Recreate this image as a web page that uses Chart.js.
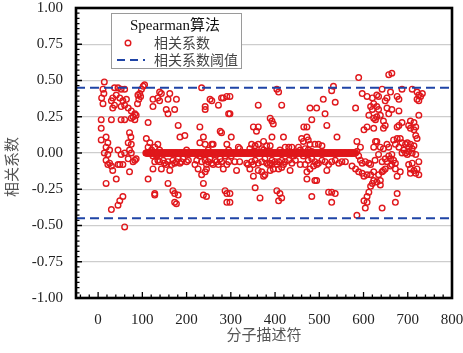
<!DOCTYPE html>
<html>
<head>
<meta charset="utf-8">
<script src="https://cdn.jsdelivr.net/npm/chart.js@4.4.1/dist/chart.umd.min.js"></script>
<style>
  html, body { margin: 0; padding: 0; background: #fff; }
  canvas { display: block; }
</style>
</head>
<body>
<canvas id="chart" width="463" height="353"></canvas>
<script>
// 数据：描述符序号 / 相关系数
const xTicks = [0, 100, 200, 300, 400, 500, 600, 700, 800];
const yTicks = [-1, -0.75, -0.5, -0.25, 0, 0.25, 0.5, 0.75, 1];
const thresholds = [0.45, -0.45];

// 中间那条粗红带：相关系数为 0 的连续描述符
const zeroRuns = [[108, 582]];

// 其余散点 [序号, 相关系数]
const corrPoints = [
  // 0 - 130
  [14,0.49],[11,0.44],[13,0.41],[8,0.38],[11,0.34],[37,0.45],[45,0.45],[52,0.44],[60,0.44],[41,0.40],
  [33,0.38],[30,0.36],[37,0.33],[33,0.31],[49,0.38],[56,0.36],[60,0.33],[52,0.32],[64,0.37],[68,0.31],
  [75,0.29],[83,0.27],[79,0.25],[86,0.26],[75,0.24],[83,0.23],[90,0.40],[94,0.41],[98,0.44],[102,0.46],
  [105,0.47],[96,0.39],[92,0.37],[89,0.34],[124,0.37],[124,0.32],[113,0.21],[7,0.23],[7,0.17],[30,0.23],
  [52,0.23],[60,0.23],[7,0.09],[18,0.11],[22,0.07],[18,0.04],[14,0.00],[26,0.02],[22,-0.01],[18,-0.05],
  [26,-0.07],[30,-0.09],[33,-0.12],[22,-0.08],[45,0.02],[52,-0.01],[60,0.00],[71,0.14],[74,0.11],[68,0.07],
  [75,0.06],[71,0.02],[75,0.00],[68,-0.04],[83,-0.05],[86,-0.04],[79,-0.06],[56,-0.08],[49,-0.08],[45,-0.08],
  [71,-0.13],[109,0.10],[117,0.07],[113,0.04],[121,0.02],[117,0.00],[124,-0.02],[128,-0.06],[124,-0.11],[113,-0.18],
  [18,-0.21],[41,-0.18],[128,-0.29],[56,-0.30],[49,-0.33],[45,-0.36],[30,-0.39],[60,-0.51],
  // 130 - 295
  [139,0.42],[143,0.41],[135,0.38],[139,0.36],[158,0.37],[162,0.41],[177,0.37],[154,0.30],[158,0.27],[173,0.30],
  [234,0.45],[253,0.37],[257,0.36],[272,0.33],[242,0.32],[242,0.30],[279,0.38],[291,0.39],[295,0.27],[283,0.38],
  [181,0.19],[230,0.18],[185,0.11],[196,0.12],[238,0.11],[276,0.15],[279,0.14],[135,0.06],[128,0.04],[139,0.02],
  [200,0.02],[230,0.07],[242,0.06],[257,0.06],[260,0.06],[249,0.02],[291,0.06],[295,0.02],
  [132,-0.02],[135,-0.05],[139,-0.06],[147,-0.05],[150,-0.07],[154,-0.08],[158,-0.06],[166,-0.08],[169,-0.05],[173,-0.07],
  [177,-0.06],[181,-0.04],[185,-0.07],[188,-0.06],[192,-0.04],[200,-0.06],[204,-0.05],[143,-0.11],[162,-0.12],[219,-0.08],
  [226,-0.11],[223,-0.05],[234,-0.06],[230,-0.02],[238,-0.01],[242,-0.05],[245,-0.08],[249,-0.06],[253,-0.04],[257,-0.07],
  [260,-0.08],[264,-0.05],[268,-0.06],[272,-0.08],[276,-0.04],[279,-0.06],[283,-0.11],[287,-0.02],[291,-0.08],[295,-0.06],
  [242,-0.13],[234,-0.15],[245,-0.11],[158,-0.21],[238,-0.21],[169,-0.26],[173,-0.28],[181,-0.29],[173,-0.34],[177,-0.35],
  [238,-0.29],[245,-0.30],[287,-0.26],[291,-0.28],[291,-0.34],[128,-0.28],
  // 295 - 460
  [404,0.44],[408,0.42],[298,0.39],[298,0.27],[362,0.33],[415,0.33],[389,0.24],[393,0.22],[396,0.20],[351,0.18],
  [362,0.18],[358,0.15],[301,0.11],[393,0.11],[419,0.11],[465,0.18],
  [317,0.04],[320,0.03],[347,0.06],[355,0.05],[362,0.06],[374,0.08],[381,0.05],[389,0.05],[370,0.03],[374,0.02],
  [351,0.01],[343,0.03],[423,0.04],[431,0.04],[438,0.04],[411,0.02],[415,0.00],[453,0.04],[457,0.02],
  [301,-0.02],[309,-0.06],[320,-0.06],[336,-0.07],[339,-0.08],[347,-0.06],[351,-0.08],[355,-0.05],[362,-0.07],[370,-0.06],
  [377,-0.04],[381,-0.07],[385,-0.08],[393,-0.05],[400,-0.06],[404,-0.08],[408,-0.06],[415,-0.05],[419,-0.08],[423,-0.06],
  [431,-0.05],[438,-0.07],[446,-0.05],[457,-0.08],[313,-0.12],[343,-0.11],[362,-0.12],[370,-0.13],[377,-0.15],[374,-0.16],
  [389,-0.12],[396,-0.11],[408,-0.11],[415,-0.10],[434,-0.12],[393,-0.08],[389,-0.07],[442,-0.02],[351,-0.16],
  [355,-0.24],[366,-0.31],[404,-0.26],[411,-0.28],[415,-0.31],[408,-0.33],[298,-0.28],[298,-0.34],
  // 460 - 630
  [589,0.52],[532,0.46],[528,0.43],[509,0.37],[536,0.35],[479,0.31],[494,0.31],[513,0.27],[582,0.31],[597,0.41],
  [608,0.39],[620,0.38],[623,0.34],[616,0.32],[620,0.30],[612,0.26],[623,0.24],[627,0.23],[483,0.23],[472,0.18],
  [517,0.19],[608,0.18],[601,0.16],[540,0.11],[623,0.17],
  [460,0.10],[464,0.08],[472,0.11],[475,0.09],[479,0.06],[490,0.06],[498,0.06],[506,0.05],[468,0.03],[475,0.02],
  [483,0.01],[460,0.00],[464,-0.02],[475,-0.05],[483,-0.04],[490,-0.06],[498,-0.07],[506,-0.05],[513,-0.06],[521,-0.08],
  [528,-0.06],[536,-0.05],[544,-0.07],[551,-0.06],[559,-0.06],[468,-0.08],[479,-0.11],[472,-0.13],[487,-0.09],[494,-0.08],
  [517,-0.12],[585,0.08],[593,0.04],[585,0.01],[589,-0.02],[593,-0.05],[597,-0.07],[604,-0.06],[612,-0.07],[616,-0.08],
  [623,0.04],[627,0.08],[574,-0.09],[582,-0.11],[589,-0.13],[597,-0.14],[601,-0.16],[608,-0.15],[616,-0.15],[623,-0.13],
  [623,-0.19],[620,-0.21],[616,-0.23],[612,-0.27],[608,-0.30],[601,-0.33],[608,-0.34],[604,-0.38],[585,-0.43],[472,-0.18],
  [490,-0.19],[494,-0.19],[521,-0.27],[528,-0.27],[536,-0.28],[528,-0.34],[483,-0.30],
  // 630 - 735
  [657,0.54],[664,0.55],[642,0.44],[630,0.40],[634,0.39],[661,0.42],[653,0.38],[649,0.36],[676,0.39],[680,0.37],
  [687,0.44],[710,0.44],[721,0.42],[725,0.40],[729,0.39],[733,0.41],[721,0.37],[725,0.36],[630,0.32],[634,0.30],
  [638,0.26],[630,0.25],[653,0.31],[657,0.27],[664,0.30],[680,0.29],[725,0.26],[645,0.22],[649,0.19],[645,0.17],
  [680,0.19],[687,0.21],[676,0.18],[702,0.19],[706,0.22],[714,0.21],[718,0.18],[706,0.17],[714,0.16],[718,0.12],
  [721,0.10],[630,0.08],[638,0.04],[645,0.03],[653,0.06],[657,0.04],[668,0.09],[676,0.10],[683,0.10],[672,0.06],
  [680,0.04],[687,0.07],[695,0.06],[699,0.07],[702,0.04],[706,0.06],[710,0.03],[714,0.05],[691,0.02],[687,0.00],
  [695,0.00],[699,-0.01],[702,0.01],[710,0.00],[718,-0.01],[657,-0.02],[664,-0.01],[649,-0.04],[642,-0.06],[653,-0.06],
  [661,-0.04],[668,-0.05],[672,-0.07],[664,-0.08],[661,-0.09],[649,-0.11],[642,-0.13],[634,-0.15],[638,-0.19],[630,-0.20],
  [638,-0.22],[645,-0.12],[676,-0.16],[683,-0.13],[702,-0.08],[710,-0.07],[725,-0.06],[706,-0.11],[714,-0.12],[721,-0.11],
  [706,-0.14],[718,-0.14],[725,-0.15],[634,-0.01],[626,-0.05],[672,-0.11],[676,-0.28],[672,-0.34],[642,-0.38]
];

const serif = '"Liberation Serif", "Times New Roman", serif';
const cjk = '"Noto Sans CJK SC", sans-serif';
const red = '#e0181c';
const blue = '#1f44a6';

// 组装散点
const scatterData = corrPoints.map(p => ({ x: p[0], y: p[1] }));
zeroRuns.forEach(run => {
    for (let i = run[0]; i <= run[1]; i++) {
        scatterData.push({ x: i, y: 0 });
    }
});

// 刻度、边框、图例、纵轴标题
const framePlugin = {
    id: 'frame',
    afterDatasetsDraw(chart) {
        const { ctx, chartArea: a, scales: { x, y } } = chart;
        ctx.save();
        ctx.strokeStyle = '#000';
        ctx.lineWidth = 1.3;
        ctx.beginPath();
        // 左轴刻度（朝内）
        for (let i = 0; i < yTicks.length; i++) {
            const py = y.getPixelForValue(yTicks[i]);
            ctx.moveTo(a.left, py); ctx.lineTo(a.left + 6, py);
            if (i < yTicks.length - 1) {
                const step = (yTicks[i + 1] - yTicks[i]) / 7;
                for (let k = 1; k < 7; k++) {
                    const my = y.getPixelForValue(yTicks[i] + step * k);
                    ctx.moveTo(a.left, my); ctx.lineTo(a.left + 3.5, my);
                }
            }
        }
        // 底轴刻度（朝内）
        for (let v = -40; v <= 800; v += 20) {
            const px = x.getPixelForValue(v);
            const len = v % 100 === 0 ? 6 : 3.5;
            ctx.moveTo(px, a.bottom); ctx.lineTo(px, a.bottom - len);
        }
        ctx.stroke();

        ctx.lineWidth = 2.6;
        ctx.strokeRect(a.left, a.top, a.right - a.left, a.bottom - a.top);
        ctx.restore();
    },
    afterDraw(chart) {
        const { ctx } = chart;
        ctx.save();
        // 图例框
        ctx.fillStyle = '#fff';
        ctx.fillRect(111, 13, 130, 55);
        ctx.strokeStyle = '#9a9a9a';
        ctx.lineWidth = 1;
        ctx.strokeRect(111.5, 13.5, 130, 55);

        ctx.textBaseline = 'middle';
        ctx.textAlign = 'left';
        ctx.fillStyle = '#111';
        ctx.font = '15px ' + serif + ', ' + cjk;
        ctx.fillText('Spearman算法', 130, 26);

        ctx.strokeStyle = red;
        ctx.lineWidth = 1.4;
        ctx.beginPath();
        ctx.arc(128, 43, 2.8, 0, Math.PI * 2);
        ctx.stroke();

        ctx.strokeStyle = blue;
        ctx.lineWidth = 2;
        ctx.setLineDash([8, 5]);
        ctx.beginPath();
        ctx.moveTo(117, 60); ctx.lineTo(145, 60);
        ctx.stroke();
        ctx.setLineDash([]);

        ctx.fillStyle = '#444';
        ctx.font = '14px ' + cjk;
        ctx.fillText('相关系数', 154, 43);
        ctx.fillText('相关系数阈值', 154, 60);

        // 纵轴标题
        ctx.translate(11, 167);
        ctx.rotate(-Math.PI / 2);
        ctx.textAlign = 'center';
        ctx.fillStyle = '#555';
        ctx.font = '15px ' + cjk;
        ctx.fillText('相关系数', 0, 0);
        ctx.restore();
    }
};

function thresholdLine(v) {
    return {
        data: [{ x: -50, y: v }, { x: 800, y: v }],
        showLine: true,
        borderColor: blue,
        borderWidth: 2,
        borderDash: [9, 5],
        pointRadius: 0
    };
}

const ctx = document.getElementById('chart').getContext('2d');
new Chart(ctx, {
    type: 'scatter',
    data: {
        datasets: [
            thresholdLine(thresholds[0]),
            thresholdLine(thresholds[1]),
            {
                data: scatterData,
                pointStyle: 'circle',
                pointRadius: 2.8,
                borderWidth: 1.4,
                borderColor: red,
                backgroundColor: 'rgba(0,0,0,0)'
            }
        ]
    },
    options: {
        responsive: false,
        animation: false,
        layout: { padding: { top: 8, right: 11, left: 0, bottom: 0 } },
        plugins: {
            legend: { display: false },
            tooltip: { enabled: false }
        },
        scales: {
            x: {
                type: 'linear',
                min: -50,
                max: 800,
                afterBuildTicks: s => { s.ticks = xTicks.map(v => ({ value: v })); },
                afterFit: s => {
                    s.height = 55;
                    s.paddingLeft = 0;
                    s.paddingRight = 0;
                },
                grid: { display: false, drawTicks: false },
                border: { display: false },
                ticks: {
                    font: { family: serif, size: 15 },
                    color: '#222',
                    padding: 13,
                    maxRotation: 0,
                    autoSkip: false
                },
                title: {
                    display: true,
                    text: '分子描述符',
                    font: { family: cjk, size: 15 },
                    color: '#555',
                    padding: { top: 0, bottom: 10 }
                }
            },
            y: {
                type: 'linear',
                min: -1,
                max: 1,
                afterBuildTicks: s => { s.ticks = yTicks.map(v => ({ value: v })); },
                afterFit: s => {
                    s.width = 76;
                    s.paddingTop = 0;
                    s.paddingBottom = 0;
                },
                grid: {
                    drawTicks: false,
                    color: ctx => (Math.abs(ctx.tick.value) === 1 ? 'rgba(0,0,0,0)' : '#cdcdcd'),
                    lineWidth: 1.3
                },
                border: { display: false },
                ticks: {
                    font: { family: serif, size: 15 },
                    color: '#222',
                    padding: 13,
                    callback: v => v.toFixed(2)
                }
            }
        }
    },
    plugins: [framePlugin]
});
</script>
</body>
</html>
